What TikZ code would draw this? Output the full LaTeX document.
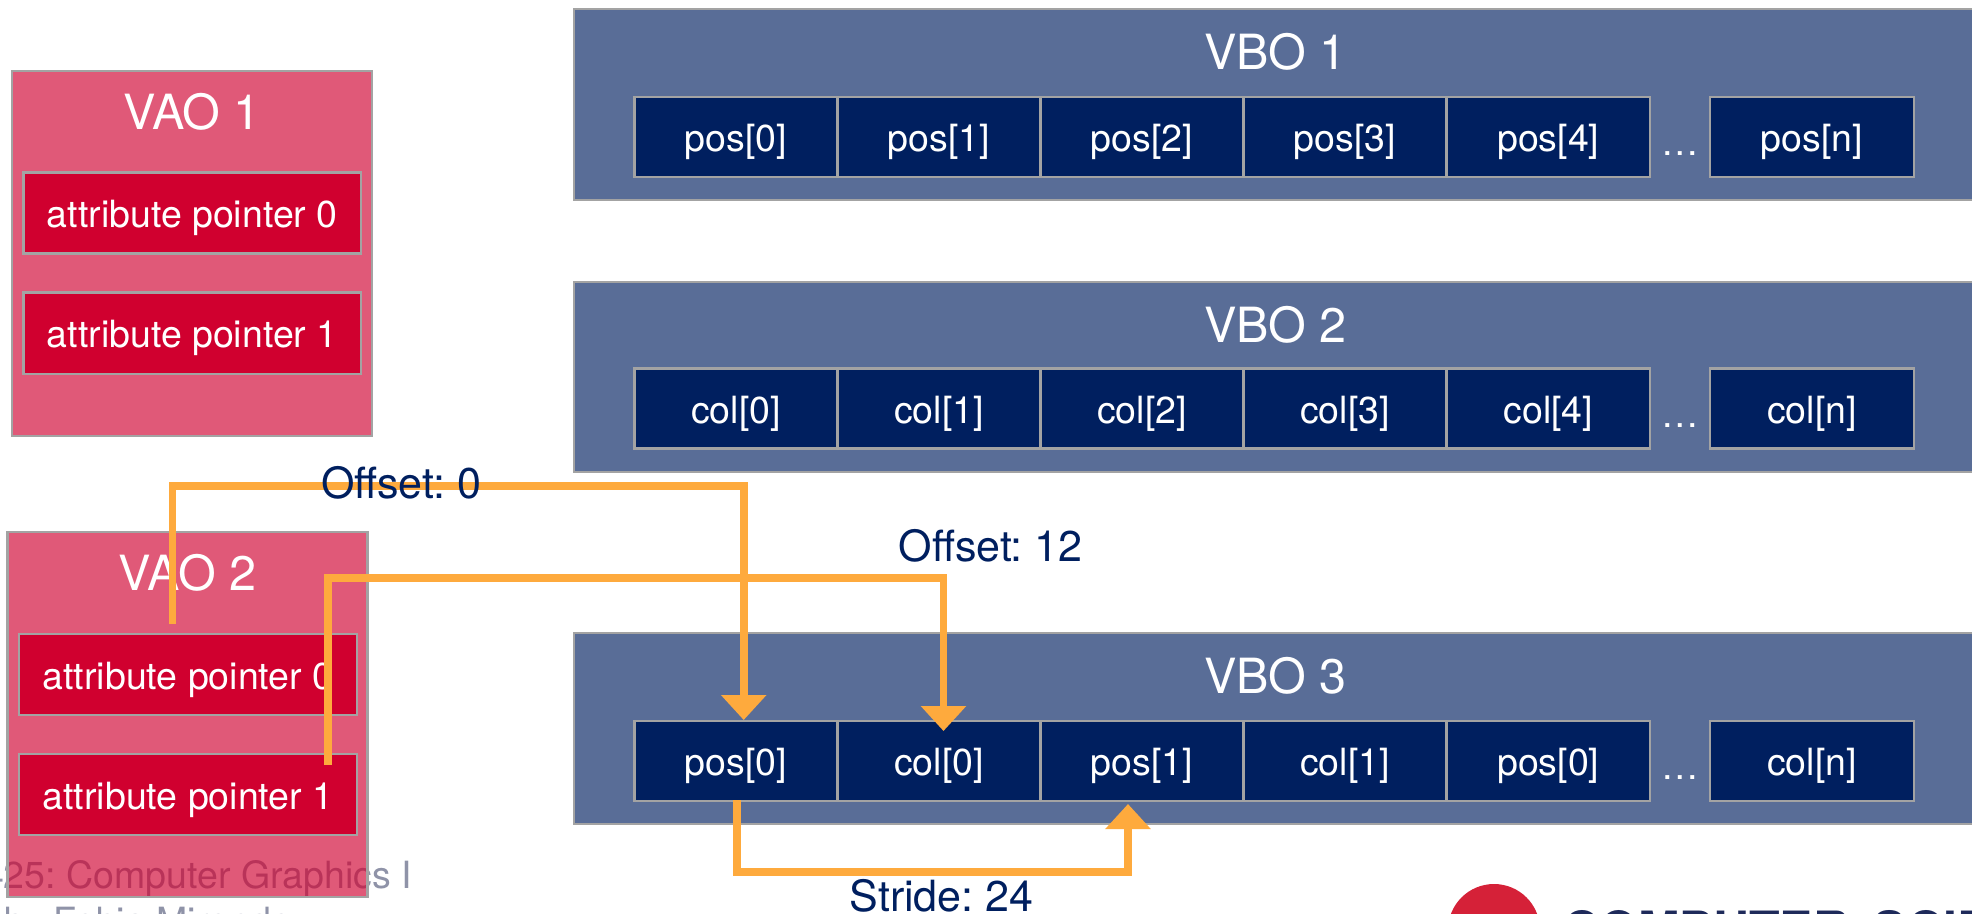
\documentclass[tikz,border=0pt]{standalone}
\usepackage{fontspec}
\setmainfont{TeX Gyre Heros}
\usetikzlibrary{arrows.meta}
\definecolor{navy}{HTML}{001F5F}
\definecolor{crimson}{HTML}{D0002F}
\definecolor{edge}{HTML}{A3A3A3}
\definecolor{flow}{HTML}{FEAA3D}
\definecolor{footgray}{HTML}{8F93A8}
\definecolor{logored}{HTML}{D52138}
\definecolor{logonavy}{HTML}{1E2A5A}
\newcommand{\cellfont}{\fontsize{37.5}{40}\selectfont\frenchspacing}
\newcommand{\titlefont}{\fontsize{48.5}{50}\selectfont\frenchspacing}
\newcommand{\notefont}{\fontsize{43}{46}\selectfont\frenchspacing}
\newcommand{\boxat}[6]{% style, name, x0, x1, y0, y1
  \node[#1,minimum width={(#4-#3)*1pt},minimum height={(#6-#5)*1pt}] (#2) at ({(#3+#4)/2},{(#5+#6)/2}) {};}
\newcommand{\cellat}[6]{% style, name, x0, x1, y0, y1 + text follows as group
  \node[#1,minimum width={(#4-#3)*1pt},minimum height={(#6-#5)*1pt}] (#2) at ({(#3+#4)/2},{(#5+#6)/2})}
\newcommand{\rowat}[7]{% name prefix, y0, five texts
  \cellat{datacell}{#1a}{634.5}{837.5}{#2}{#2+80}{#3};
  \cellat{datacell}{#1b}{837.5}{1040.5}{#2}{#2+80}{#4};
  \cellat{datacell}{#1c}{1040.5}{1243.5}{#2}{#2+80}{#5};
  \cellat{datacell}{#1d}{1243.5}{1446.5}{#2}{#2+80}{#6};
  \cellat{datacell}{#1e}{1446.5}{1650}{#2}{#2+80}{#7};
}
\tikzset{
  outerblue/.style={draw=edge,line width=2.6pt,fill=navy,fill opacity=.65,draw opacity=1,inner sep=0pt},
  outerred/.style={draw=edge,line width=2.6pt,fill=crimson,fill opacity=.65,draw opacity=1,inner sep=0pt},
  labelcell/.style={draw=edge,line width=2.6pt,text=white,font=\cellfont,inner sep=0pt,text height=37pt,text depth=8pt},
  datacell/.style={labelcell,fill=navy},
  attrcell/.style={labelcell,fill=crimson},
  boxtitle/.style={anchor=base,text=white,font=\titlefont,inner sep=0pt},
  dots/.style={anchor=base,text=white,font=\cellfont,inner sep=0pt},
  note/.style={anchor=base,text=navy,font=\notefont,inner sep=0pt},
  foot/.style={anchor=base east,text=footgray,font=\cellfont,inner sep=0pt},
  flowline/.style={draw=flow,line width=7.6pt,miter limit=10},
  flowarrow/.style={flowline,-{Triangle[length=25pt,width=44pt]}},
}
\begin{document}
\begin{tikzpicture}[x=1pt,y=-1pt]
\useasboundingbox (0,0) rectangle (1972,913);
\clip (0,0) rectangle (1972,913);
% footer and logo (behind the translucent panels)
\node[foot] (course) at (412,888) {CS 425: Computer Graphics I};
\node[anchor=base west,text=footgray,font=\cellfont,inner sep=0pt] (teacher) at (4,934) {by Fabio Miranda};
\node[circle,fill=logored,minimum size=92pt,inner sep=0pt] (logomark) at (1494,930) {};
\node[anchor=base west,text=logonavy,font=\fontsize{50}{54}\selectfont\bfseries,inner sep=0pt] (logotext) at (1563,947) {COMPUTER\hspace{11pt} SCIENCE};
% VBO panels
\boxat{outerblue}{vbo1}{574}{2000}{9}{200}
\boxat{outerblue}{vbo2}{574}{2000}{282}{472}
\boxat{outerblue}{vbo3}{574}{2000}{633}{824}
\node[boxtitle] (t1) at (1275.5,69.5) {VBO 1};
\node[boxtitle] (t2) at (1275.5,342) {VBO 2};
\node[boxtitle] (t3) at (1275.5,693) {VBO 3};
\rowat{p}{97}{pos[0]}{pos[1]}{pos[2]}{pos[3]}{pos[4]}
\cellat{datacell}{pn}{1710}{1914}{97}{177}{pos[n]};
\node[dots] (d1) at (1680,155.5) {…};
\rowat{c}{368.5}{col[0]}{col[1]}{col[2]}{col[3]}{col[4]}
\cellat{datacell}{cn}{1710}{1914}{368.5}{448.5}{col[n]};
\node[dots] (d2) at (1680,427) {…};
\rowat{m}{721}{pos[0]}{col[0]}{pos[1]}{col[1]}{pos[0]}
\cellat{datacell}{mn}{1710}{1914}{721}{801}{col[n]};
\node[dots] (d3) at (1680,779.5) {…};
% VAO panels
\boxat{outerred}{vao1}{12}{372}{71}{436}
\node[boxtitle] (ta1) at (192,129) {VAO 1};
\cellat{attrcell}{a10}{23.5}{361}{172.5}{253.5}{attribute pointer 0};
\cellat{attrcell}{a11}{23.5}{361}{292.5}{374}{attribute pointer 1};
\boxat{outerred}{vao2}{7.5}{367.5}{532}{897}
\node[boxtitle] (ta2) at (187.5,590.5) {VAO 2};
\cellat{attrcell}{a20}{19}{357}{634}{715}{attribute pointer 0};
\cellat{attrcell}{a21}{19}{357}{754}{835}{attribute pointer 1};
% connectors
\coordinate (o1s) at (172.5,624);
\coordinate (o1b) at (458,485.7);
\coordinate (o1e) at (743.7,720);
\coordinate (o2s) at (328,765);
\coordinate (o2b) at (636,577.7);
\coordinate (o2e) at (943.5,731);
\coordinate (s1s) at (737,800);
\coordinate (s1b) at (932,871.7);
\coordinate (s1e) at (1128,804);
\draw[flowarrow] (o1s) |- (o1b) -| (o1e);
\draw[flowarrow] (o2s) |- (o2b) -| (o2e);
\draw[flowarrow] (s1s) |- (s1b) -| (s1e);
% notes
\node[note] (n0) at (401,498) {Offset: 0};
\node[note] (n1) at (990.5,561) {Offset: 12};
\node[note] (n2) at (941.5,911) {Stride: 24};
\end{tikzpicture}
\end{document}
